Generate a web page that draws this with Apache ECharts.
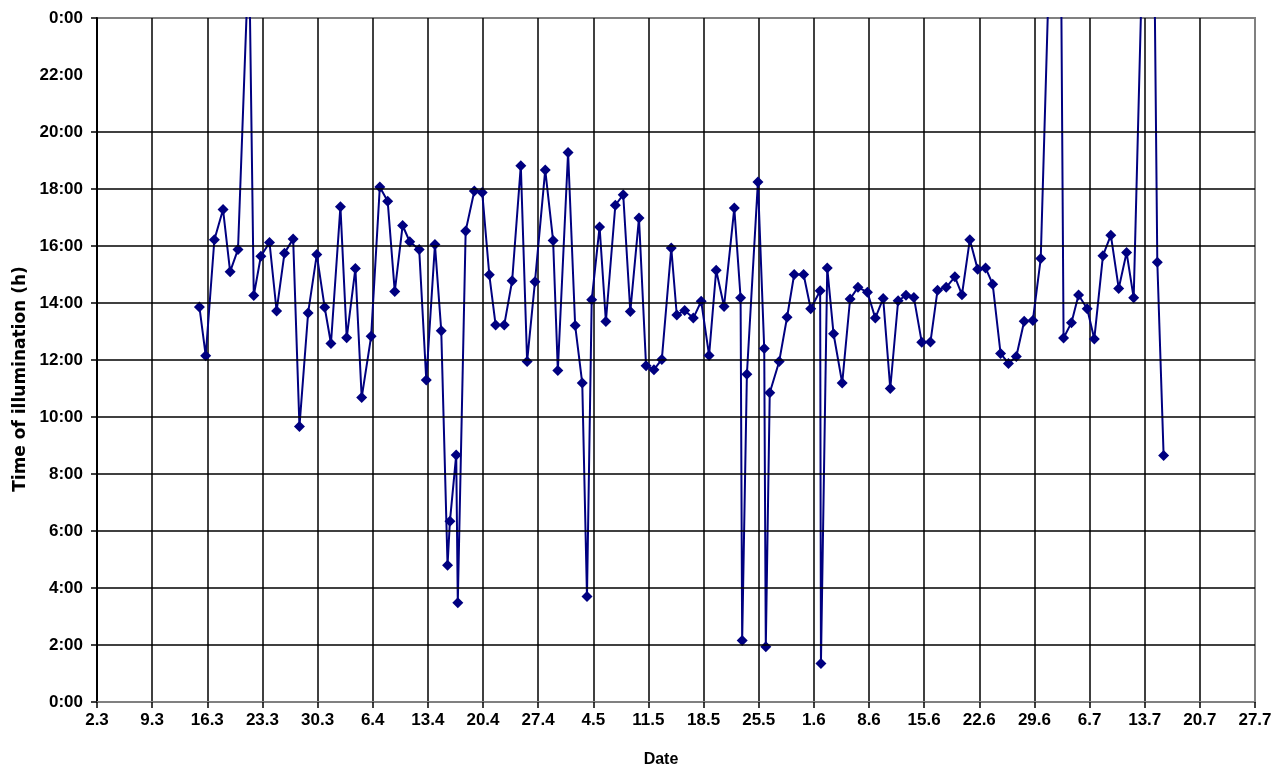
<!DOCTYPE html>
<html>
<head>
<meta charset="utf-8">
<title>Time of illumination</title>
<script src="https://cdn.jsdelivr.net/npm/echarts@6/dist/echarts.min.js"></script>
<style>
  html, body { margin: 0; padding: 0; background: #ffffff; }
  #chart { width: 1274px; height: 767px; }
</style>
</head>
<body>
<div id="chart"></div>
<script>
// Measurement dates, as days after 2 March
const dayOffsets = [
  13.0, 13.8, 14.9, 16.0, 16.9, 17.9, 19.3, 19.9, 20.8, 21.9,
  22.8, 23.8, 24.9, 25.7, 26.8, 27.9, 28.9, 29.7, 30.9, 31.7,
  32.8, 33.6, 34.8, 35.9, 36.9, 37.8, 38.8, 39.7, 40.9, 41.8,
  42.9, 43.7, 44.5, 44.8, 45.6, 45.8, 46.8, 47.9, 48.9, 49.8,
  50.6, 51.7, 52.7, 53.8, 54.6, 55.6, 56.9, 57.9, 58.5, 59.8,
  60.7, 61.6, 62.2, 62.8, 63.8, 64.6, 65.8, 66.8, 67.7, 68.8,
  69.7, 70.7, 71.7, 72.9, 73.6, 74.6, 75.7, 76.7, 77.7, 78.6,
  79.6, 80.9, 81.7, 81.9, 82.5, 83.9, 84.7, 84.9, 85.4, 86.6,
  87.6, 88.5, 89.7, 90.6, 91.8, 91.9, 92.7, 93.5, 94.6, 95.6,
  96.6, 97.8, 98.8, 99.8, 100.7, 101.7, 102.7, 103.7, 104.7, 105.8,
  106.7, 107.8, 108.9, 109.8, 110.8, 111.8, 112.8, 113.7, 114.7, 115.7,
  116.7, 117.7, 118.8, 119.8, 122.1, 122.7, 123.7, 124.6, 125.7, 126.6,
  127.7, 128.7, 129.7, 130.7, 131.6, 133.8, 134.6, 135.4
];

// Time of illumination, hours
const illumHours = [
  13.86, 12.15, 16.22, 17.28, 15.10, 15.88, 26.50, 14.26, 15.64, 16.12,
  13.72, 15.75, 16.25, 9.67, 13.65, 15.70, 13.85, 12.58, 17.38, 12.78,
  15.21, 10.68, 12.83, 18.07, 17.57, 14.40, 16.72, 16.15, 15.88, 11.30,
  16.05, 13.03, 4.80, 6.34, 8.67, 3.48, 16.53, 17.93, 17.88, 14.99,
  13.23, 13.23, 14.78, 18.82, 11.95, 14.75, 18.67, 16.19, 11.63, 19.28,
  13.21, 11.19, 3.70, 14.11, 16.67, 13.35, 17.43, 17.80, 13.70, 16.98,
  11.80, 11.66, 12.02, 15.93, 13.58, 13.74, 13.47, 14.06, 12.16, 15.15,
  13.88, 17.33, 14.18, 2.16, 11.50, 18.25, 12.40, 1.94, 10.85, 11.95,
  13.50, 15.00, 15.00, 13.80, 14.43, 1.35, 15.23, 12.92, 11.19, 14.14,
  14.55, 14.38, 13.47, 14.16, 11.00, 14.08, 14.27, 14.19, 12.62, 12.63,
  14.45, 14.55, 14.92, 14.29, 16.22, 15.18, 15.23, 14.66, 12.23, 11.88,
  12.12, 13.36, 13.39, 15.56, 37.50, 12.77, 13.31, 14.28, 13.80, 12.74,
  15.66, 16.38, 14.51, 15.77, 14.18, 38.00, 15.43, 8.65
];

// Hour ticks: labels every two hours; grid lines and tick marks skip 22:00
const yLabelHours = [0, 2, 4, 6, 8, 10, 12, 14, 16, 18, 20, 22, 24];
const yGridHours = [0, 2, 4, 6, 8, 10, 12, 14, 16, 18, 20, 24];

const START = Date.UTC(2001, 2, 2);
function dayLabel(d) {
  const dt = new Date(START + d * 86400000);
  return dt.getUTCDate() + '.' + (dt.getUTCMonth() + 1);
}
function hourLabel(h) {
  return (h % 24) + ':00';
}

const FONT = 'Liberation Sans, Arial, sans-serif';
const labelStyle = { color: '#000', fontFamily: FONT, fontWeight: 'bold', fontSize: 17 };

const chart = echarts.init(document.getElementById('chart'), null, { renderer: 'canvas' });
chart.setOption({
  animation: false,
  backgroundColor: '#ffffff',
  grid: {
    left: 97, right: 19, top: 18, bottom: 65,
    outerBoundsMode: 'none',
    containLabel: false,
    show: true, borderColor: '#808080', borderWidth: 2, backgroundColor: '#ffffff'
  },
  xAxis: {
    type: 'value',
    min: 0, max: 147, interval: 7,
    name: 'Date',
    nameLocation: 'middle',
    nameGap: 50,
    nameTextStyle: Object.assign({}, labelStyle, { fontSize: 16, padding: [0, 30, 0, 0] }),
    axisLine: { show: true, onZero: false, lineStyle: { color: '#808080', width: 2 } },
    axisTick: { show: true, length: 6, lineStyle: { color: '#000', width: 1.5 } },
    axisLabel: Object.assign({ formatter: dayLabel, margin: 10, showMinLabel: true, showMaxLabel: true }, labelStyle),
    splitLine: { show: true, showMinLine: false, showMaxLine: false, lineStyle: { color: '#000', width: 1.5 } }
  },
  yAxis: {
    type: 'value',
    min: 0, max: 24, interval: 2,
    name: 'Time of illumination (h)',
    nameLocation: 'middle',
    nameGap: 68,
    nameTextStyle: { color: '#000', fontFamily: 'DejaVu Sans, sans-serif', fontWeight: 'bold', fontSize: 17, padding: [0, 38, 0, 0] },
    axisLine: { show: true, onZero: false, lineStyle: { color: '#000', width: 2 } },
    axisTick: { show: true, length: 6, customValues: yGridHours, lineStyle: { color: '#000', width: 1.5 } },
    axisLabel: Object.assign({ formatter: hourLabel, margin: 14, customValues: yLabelHours }, labelStyle),
    splitLine: { show: false }
  },
  series: [
    {
      // horizontal grid lines
      type: 'line',
      z: 1,
      data: [[0, 0]],
      showSymbol: false,
      silent: true,
      lineStyle: { opacity: 0 },
      markLine: {
        silent: true,
        symbol: ['none', 'none'],
        label: { show: false },
        lineStyle: { color: '#000', width: 1.5, type: 'solid' },
        emphasis: { disabled: true },
        data: yGridHours.filter(h => h > 0 && h < 24).map(h => ({ yAxis: h }))
      }
    },
    {
      type: 'line',
      z: 3,
      data: dayOffsets.map((d, i) => [d, illumHours[i]]),
      symbol: 'diamond',
      symbolSize: 11,
      showAllSymbol: true,
      clip: true,
      lineStyle: { color: '#000080', width: 2 },
      itemStyle: { color: '#000080' },
      emphasis: { disabled: true }
    }
  ]
});
</script>
</body>
</html>
